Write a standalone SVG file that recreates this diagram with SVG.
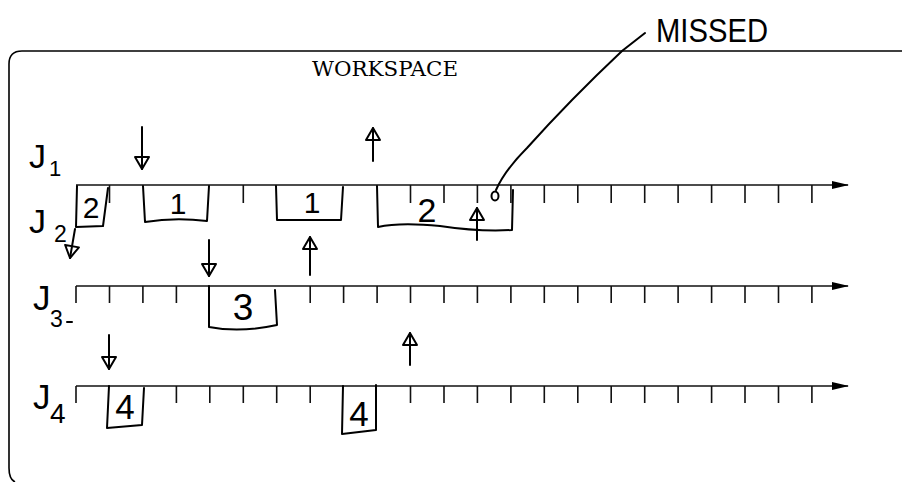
<svg xmlns="http://www.w3.org/2000/svg" width="902" height="482" viewBox="0 0 902 482">
<style>
.frame{fill:none;stroke:#000;stroke-width:1.6}
.axis{fill:none;stroke:#111;stroke-width:1.6}
.tick{fill:none;stroke:#111;stroke-width:1.6}
.box{fill:none;stroke:#000;stroke-width:2;stroke-linejoin:round;stroke-linecap:round}
.arr{fill:none;stroke:#000;stroke-width:2;stroke-linecap:round}
.hand{font-family:"Liberation Sans","DejaVu Sans",sans-serif;fill:#000}
.title{font-family:"DejaVu Serif","Liberation Serif",serif;font-size:20px;fill:#000}
</style>
<defs>
<marker id="axh" markerWidth="17" markerHeight="10" refX="16" refY="5" orient="auto" markerUnits="userSpaceOnUse">
<path d="M0,1 L17,5 L0,9 Z" fill="#000"/>
</marker>
<marker id="ah" markerWidth="16" markerHeight="18" refX="14" refY="9" orient="auto" markerUnits="userSpaceOnUse">
<path d="M2,2 L14,9 L2,16 Z" fill="none" stroke="#000" stroke-width="2" stroke-linejoin="round"/>
</marker>
</defs>
<rect width="902" height="482" fill="#fff"/>

<g id="workspace">
<path class="frame" d="M902,51 L22,51 Q9,51 9,64 L9,468 Q9,479 15,482"/>
<text class="title" x="312" y="76" textLength="146" lengthAdjust="spacingAndGlyphs">WORKSPACE</text>
</g>

<g id="timeline-J1-J2">
<path class="axis" d="M76,185 L848,185" marker-end="url(#axh)"/>
<path class="tick" d="M109.5,185 v18 M243.3,185 v18 M410.5,185 v18 M444,185 v18 M477.4,185 v18 M510.9,185 v18 M544.3,185 v18 M577.8,185 v18 M611.2,185 v18 M644.7,185 v18 M678.1,185 v18 M711.6,185 v18 M745,185 v18 M778.5,185 v18 M811.9,185 v18"/>
</g>
<g id="timeline-J3">
<path class="axis" d="M76,286 L848,286" marker-end="url(#axh)"/>
<path class="tick" d="M76,286 v17 M109.5,286 v17 M142.9,286 v17 M176.4,286 v17 M310.2,286 v17 M343.6,286 v17 M377.1,286 v17 M410.5,286 v17 M444,286 v17 M477.4,286 v17 M510.9,286 v17 M544.3,286 v17 M577.8,286 v17 M611.2,286 v17 M644.7,286 v17 M678.1,286 v17 M711.6,286 v17 M745,286 v17 M778.5,286 v17 M811.9,286 v17"/>
</g>
<g id="timeline-J4">
<path class="axis" d="M76,386 L848,386" marker-end="url(#axh)"/>
<path class="tick" d="M76,386 v17 M176.4,386 v17 M209.8,386 v17 M243.3,386 v17 M276.7,386 v17 M310.2,386 v17 M410.5,386 v17 M444,386 v17 M477.4,386 v17 M510.9,386 v17 M544.3,386 v17 M577.8,386 v17 M611.2,386 v17 M644.7,386 v17 M678.1,386 v17 M711.6,386 v17 M745,386 v17 M778.5,386 v17 M811.9,386 v17"/>
</g>

<g id="label-J1"><text class="hand" x="29" y="168" font-size="34">J<tspan x="49" y="176" font-size="22">1</tspan></text></g>
<g id="label-J2"><text class="hand" x="29" y="233" font-size="34">J<tspan x="54" y="242" font-size="23">2</tspan></text></g>
<g id="label-J3"><text class="hand" x="33" y="310" font-size="35">J<tspan x="50" y="327" font-size="23">3</tspan></text><path class="arr" d="M67,322 h5" stroke-width="1.4"/></g>
<g id="label-J4"><text class="hand" x="33" y="409" font-size="35">J<tspan x="50" y="423" font-size="28">4</tspan></text></g>

<g id="box-J2-2a">
<path class="box" d="M77,186 L76,227 L103,226 L108,188"/>
<text class="hand" x="91" y="218" font-size="30" text-anchor="middle">2</text>
</g>
<g id="box-J1-1a">
<path class="box" d="M143,186 L145,222 Q175,217 207,221 L209,186"/>
<text class="hand" x="178" y="214" font-size="30" text-anchor="middle">1</text>
</g>
<g id="box-J1-1b">
<path class="box" d="M276,186 L277,220 L341,220 L343,187"/>
<text class="hand" x="312" y="213" font-size="30" text-anchor="middle">1</text>
</g>
<g id="box-J2-2b">
<path class="box" d="M377,186 L378,227 Q400,222 440,226 Q480,232 512,230 L513,190"/>
<text class="hand" x="427" y="222" font-size="34" text-anchor="middle">2</text>
</g>
<g id="box-J3-3">
<path class="box" d="M209,286 L209,327 Q240,333 277,325 L275,290"/>
<text class="hand" x="243" y="320" font-size="37" text-anchor="middle">3</text>
</g>
<g id="box-J4-4a">
<path class="box" d="M109,386 L107,428 L142,425 L144,388"/>
<text class="hand" x="125" y="419" font-size="35" text-anchor="middle">4</text>
</g>
<g id="box-J4-4b">
<path class="box" d="M343,386 L342,434 L376,430 L376,385"/>
<text class="hand" x="359" y="426" font-size="35" text-anchor="middle">4</text>
</g>

<g id="missed-label">
<text class="hand" x="656" y="42" font-size="33" textLength="112" lengthAdjust="spacingAndGlyphs">MISSED</text>
</g>

<g id="connectors">
<path class="arr" d="M142,127 L142,169" marker-end="url(#ah)"/>
<path class="arr" d="M373,161 L373,128" marker-end="url(#ah)"/>
<path class="arr" d="M75,229 L70,258" marker-end="url(#ah)"/>
<path class="arr" d="M477,240 L477,208" marker-end="url(#ah)"/>
<path class="arr" d="M209,240 L209,276" marker-end="url(#ah)"/>
<path class="arr" d="M310,275 L310,237" marker-end="url(#ah)"/>
<path class="arr" d="M410,365 L410,333" marker-end="url(#ah)"/>
<path class="arr" d="M109,335 L109,369" marker-end="url(#ah)"/>
<path class="arr" d="M645,33 L622,51 Q570,100 527,148 Q505,170 496,190" stroke-width="1.8"/>
<ellipse cx="495" cy="196" rx="3.5" ry="4.5" fill="none" stroke="#000" stroke-width="2"/>
</g>
</svg>
